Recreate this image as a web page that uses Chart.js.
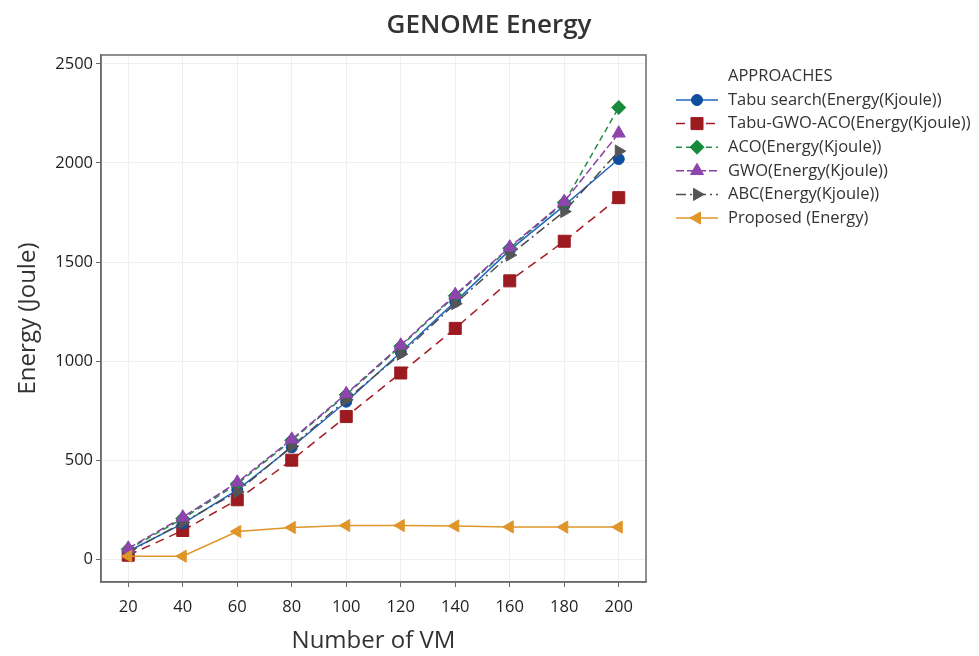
<!DOCTYPE html>
<html>
<head>
<meta charset="utf-8">
<script src="https://cdn.jsdelivr.net/npm/chart.js@4.4.1/dist/chart.umd.min.js"></script>
<style>
  html, body { margin: 0; padding: 0; background: #fff; }
  #wrap { width: 979px; height: 656px; }
</style>
</head>
<body>
<div id="wrap"><canvas id="energyChart" width="979" height="656"></canvas></div>
<script>
// VM counts on the x axis
const vmCounts = ['20', '40', '60', '80', '100', '120', '140', '160', '180', '200'];
const yTicks = [0, 500, 1000, 1500, 2000, 2500];

// energy per approach
const tabuSearch = [40, 180, 350, 565, 795, 1045, 1300, 1560, 1785, 2020];
const tabuGwoAco = [20, 145, 300, 500, 720, 940, 1165, 1405, 1605, 1825];
const aco        = [50, 205, 380, 600, 830, 1075, 1330, 1570, 1800, 2280];
const gwo        = [55, 212, 388, 605, 835, 1080, 1335, 1575, 1805, 2150];
const abc        = [35, 185, 340, 570, 805, 1035, 1290, 1535, 1755, 2060];
const proposed   = [15, 15, 140, 160, 170, 170, 168, 163, 162, 162];

const $ = id => document.getElementById(id);
const FONT = '"Open Sans", "Noto Sans", sans-serif';

Chart.defaults.font.family = FONT;
Chart.defaults.color = '#222';

const series = (label, data, color, marker, style, radius, rotation, dash, order) => ({
    label, data, order,
    borderColor: color, borderWidth: 1.5, borderDash: dash,
    pointStyle: style, pointRadius: radius, pointRotation: rotation,
    pointBackgroundColor: marker, pointBorderColor: marker, pointBorderWidth: 1,
    fill: false, tension: 0
});

// title, plot frame and the right-hand legend (line sample + marker, then label)
const decorations = {
    id: 'decorations',
    afterDraw(chart) {
        const ctx = chart.ctx;
        const a = chart.chartArea;
        ctx.save();
        ctx.textBaseline = 'middle';

        ctx.font = '600 26px ' + FONT;
        ctx.fillStyle = '#333';
        ctx.textAlign = 'center';
        ctx.fillText('GENOME Energy', 489, 26);

        ctx.strokeStyle = '#6b6b6b';
        ctx.lineWidth = 1.5;
        ctx.strokeRect(a.left, a.top, a.right - a.left, a.bottom - a.top);

        const x0 = 676, tx = 728;
        let y = 100;
        ctx.textAlign = 'left';
        ctx.font = '16.5px ' + FONT;
        ctx.fillText('APPROACHES', tx, 76);
        chart.data.datasets.forEach(ds => {
            ctx.strokeStyle = ds.borderColor;
            ctx.lineWidth = 1.5;
            ctx.setLineDash(ds.borderDash || []);
            ctx.beginPath();
            ctx.moveTo(x0, y);
            ctx.lineTo(x0 + 42, y);
            ctx.stroke();
            ctx.setLineDash([]);
            ctx.fillStyle = ds.pointBackgroundColor;
            ctx.strokeStyle = ds.pointBorderColor;
            ctx.lineWidth = 1;
            Chart.helpers.drawPoint(ctx, { pointStyle: ds.pointStyle, radius: ds.pointRadius, rotation: ds.pointRotation || 0, borderWidth: 1 }, x0 + 21, y);
            ctx.fillStyle = '#333';
            ctx.fillText(ds.label, tx, y);
            y += 23.6;
        });
        ctx.restore();
    }
};

new Chart($('energyChart'), {
    type: 'line',
    data: {
        labels: vmCounts,
        datasets: [
            series('Tabu search(Energy(Kjoule))', tabuSearch, '#2267c0', '#0f4d9e', 'circle', 5.5, 0, [], 4),
            series('Tabu-GWO-ACO(Energy(Kjoule))', tabuGwoAco, '#a61c24', '#9b1b20', 'rect', 8.5, 0, [9, 6], 5),
            series('ACO(Energy(Kjoule))', aco, '#1f8f45', '#178a3c', 'rectRot', 7, 0, [6, 4], 3),
            series('GWO(Energy(Kjoule))', gwo, '#8b3ea6', '#8e44ad', 'triangle', 7.5, 0, [8, 3], 1),
            series('ABC(Energy(Kjoule))', abc, '#4d4d4d', '#555555', 'triangle', 7, 90, [10, 4, 2, 4], 2),
            series('Proposed (Energy)', proposed, '#e0952a', '#e0952a', 'triangle', 7, -90, [], 0)
        ]
    },
    options: {
        responsive: false, animation: false,
        layout: { padding: { left: 0, right: 333, top: 55, bottom: 0 } },
        plugins: {
            legend: { display: false },
            tooltip: { enabled: false },
            title: { display: false }
        },
        scales: {
            x: {
                type: 'category', offset: true,
                grid: { offset: false, color: '#efefef', tickColor: '#6b6b6b', tickLength: 5 },
                border: { color: '#6b6b6b', width: 1.5 },
                ticks: { padding: 10, font: { size: 16.5 }, color: '#1e1e1e', autoSkip: false, maxRotation: 0 },
                title: { display: true, text: 'Number of VM', color: '#333', font: { size: 24 }, padding: { top: 4, bottom: 0 } },
                afterFit: s => { s.height = 74; }
            },
            y: {
                min: -115, max: 2545,
                afterBuildTicks: s => { s.ticks = yTicks.map(v => ({ value: v })); },
                grid: { color: '#efefef', tickColor: '#6b6b6b', tickLength: 5 },
                border: { color: '#6b6b6b', width: 1.5 },
                ticks: { padding: 3, font: { size: 16.5 }, color: '#1e1e1e', callback: v => String(v) },
                title: { display: true, text: 'Energy (Joule)', color: '#333', font: { size: 24 }, padding: { top: 14, bottom: 4 } },
                afterFit: s => { s.width = 101; }
            }
        }
    },
    plugins: [decorations]
});
</script>
</body>
</html>
